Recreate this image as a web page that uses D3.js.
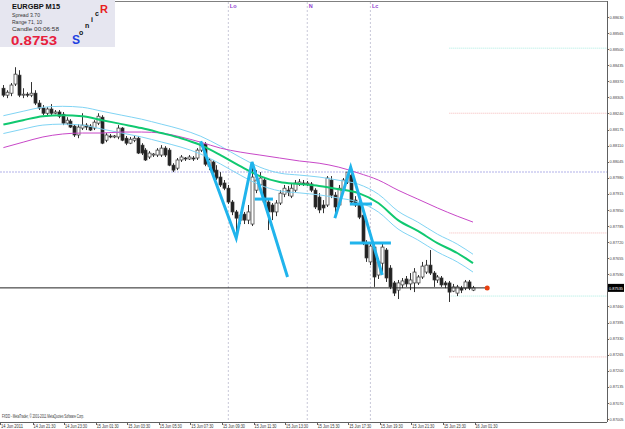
<!DOCTYPE html>
<html><head><meta charset="utf-8">
<script src="https://cdn.jsdelivr.net/npm/d3@7"></script>
<title>EURGBP M15</title>
<style>
body{margin:0;background:#fff;}
text{font-family:"Liberation Sans",Arial,sans-serif;}
</style>
</head><body>
<script>
// --- data (15 minute bars, 14 Jun 19:45 .. 16 Jun 01:30) ---
const opens = [0.88342,0.88314,0.88322,0.88359,0.88395,0.88314,0.88318,0.88314,0.88322,0.88282,
 0.88262,0.88241,0.88258,0.88241,0.88246,0.88237,0.88201,0.88209,0.88189,0.88153,
 0.88181,0.88193,0.88189,0.88181,0.88201,0.88225,0.88132,0.88149,0.88145,0.88145,
 0.88181,0.88140,0.88120,0.88132,0.88140,0.88112,0.88092,0.88064,0.88072,0.88072,
 0.88072,0.88100,0.88092,0.88031,0.88019,0.88052,0.88060,0.88056,0.88060,0.88060,
 0.88092,0.88116,0.88027,0.88044,0.88011,0.87983,0.87959,0.87938,0.87882,0.87842,
 0.87809,0.87833,0.87809,0.87793,0.87930,0.87951,0.87971,0.87882,0.87870,0.87842,
 0.87878,0.87914,0.87930,0.87906,0.87930,0.87955,0.87959,0.87955,0.87955,0.87930,
 0.87902,0.87870,0.87870,0.87971,0.87910,0.87870,0.87930,0.87963,0.87991,0.87890,
 0.87874,0.87829,0.87716,0.87640,0.87700,0.87587,0.87635,0.87688,0.87615,0.87555,
 0.87526,0.87547,0.87571,0.87551,0.87555,0.87555,0.87579,0.87599,0.87627,0.87595,
 0.87567,0.87575,0.87555,0.87555,0.87522,0.87514,0.87534,0.87534,0.87559,0.87526];
const highs = [0.88355,0.88334,0.88363,0.88427,0.88415,0.88342,0.88326,0.88367,0.88334,0.88294,
 0.88274,0.88266,0.88278,0.88254,0.88254,0.88246,0.88225,0.88217,0.88197,0.88197,
 0.88241,0.88201,0.88197,0.88213,0.88241,0.88233,0.88161,0.88157,0.88153,0.88193,
 0.88185,0.88149,0.88145,0.88149,0.88149,0.88120,0.88100,0.88088,0.88080,0.88100,
 0.88112,0.88108,0.88100,0.88039,0.88060,0.88072,0.88064,0.88072,0.88068,0.88100,
 0.88128,0.88124,0.88060,0.88052,0.88031,0.88003,0.87971,0.87951,0.87890,0.87850,
 0.87842,0.87842,0.87870,0.88044,0.88011,0.88003,0.87979,0.87898,0.87878,0.87890,
 0.87930,0.87951,0.87947,0.87959,0.87971,0.87975,0.87971,0.87967,0.87963,0.87938,
 0.87918,0.87890,0.87987,0.87987,0.87922,0.87951,0.87979,0.88003,0.88023,0.87906,
 0.87890,0.87842,0.87728,0.87716,0.87712,0.87656,0.87716,0.87696,0.87627,0.87563,
 0.87567,0.87575,0.87583,0.87595,0.87615,0.87587,0.87640,0.87648,0.87688,0.87603,
 0.87587,0.87583,0.87563,0.87563,0.87551,0.87547,0.87543,0.87567,0.87567,0.87543];
const lows = [0.88306,0.88302,0.88310,0.88351,0.88306,0.88302,0.88306,0.88306,0.88274,0.88254,
 0.88233,0.88233,0.88233,0.88237,0.88221,0.88193,0.88193,0.88181,0.88145,0.88140,
 0.88173,0.88173,0.88169,0.88173,0.88193,0.88116,0.88124,0.88140,0.88140,0.88136,
 0.88128,0.88112,0.88116,0.88124,0.88076,0.88072,0.88048,0.88056,0.88064,0.88064,
 0.88064,0.88064,0.88027,0.88003,0.88011,0.88044,0.88048,0.88052,0.88048,0.88052,
 0.88084,0.88027,0.88011,0.87991,0.87971,0.87943,0.87930,0.87874,0.87829,0.87736,
 0.87793,0.87793,0.87793,0.87785,0.87918,0.87930,0.87870,0.87769,0.87809,0.87825,
 0.87870,0.87902,0.87906,0.87898,0.87922,0.87947,0.87947,0.87947,0.87922,0.87854,
 0.87837,0.87837,0.87862,0.87898,0.87817,0.87862,0.87922,0.87955,0.87874,0.87862,
 0.87813,0.87708,0.87640,0.87627,0.87539,0.87571,0.87599,0.87559,0.87530,0.87502,
 0.87490,0.87534,0.87539,0.87526,0.87518,0.87547,0.87571,0.87591,0.87587,0.87539,
 0.87555,0.87539,0.87534,0.87478,0.87518,0.87502,0.87514,0.87526,0.87526,0.87522];
const closes = [0.88314,0.88326,0.88355,0.88399,0.88314,0.88318,0.88314,0.88322,0.88282,0.88262,
 0.88241,0.88258,0.88241,0.88246,0.88229,0.88201,0.88213,0.88185,0.88153,0.88185,
 0.88193,0.88185,0.88173,0.88205,0.88229,0.88120,0.88153,0.88145,0.88149,0.88181,
 0.88132,0.88120,0.88136,0.88140,0.88080,0.88080,0.88052,0.88080,0.88076,0.88092,
 0.88100,0.88072,0.88031,0.88011,0.88052,0.88064,0.88056,0.88064,0.88056,0.88092,
 0.88120,0.88035,0.88052,0.88003,0.87979,0.87951,0.87938,0.87882,0.87842,0.87817,
 0.87829,0.87809,0.87842,0.87983,0.87971,0.87979,0.87882,0.87842,0.87842,0.87878,
 0.87918,0.87938,0.87922,0.87938,0.87959,0.87963,0.87955,0.87959,0.87930,0.87862,
 0.87850,0.87858,0.87979,0.87910,0.87862,0.87938,0.87971,0.88003,0.87882,0.87870,
 0.87821,0.87716,0.87656,0.87704,0.87579,0.87640,0.87700,0.87575,0.87539,0.87514,
 0.87555,0.87563,0.87551,0.87567,0.87599,0.87579,0.87623,0.87627,0.87595,0.87567,
 0.87579,0.87547,0.87547,0.87518,0.87539,0.87539,0.87526,0.87559,0.87534,0.87535];

// moving averages, read every 5 bars
const maBars    = [0,5,10,15,20,25,30,35,40,45,50,55,60,65,70,75,80,85,90,95,100,105,110,115,119];
const maFast    = [0.88195,0.88213,0.88229,0.88233,0.88229,0.88213,0.88197,0.88181,0.88161,0.88140,0.88112,0.88072,0.88027,0.87987,0.87963,0.87955,0.87947,0.87934,0.87918,0.87878,0.87809,0.87765,0.87716,0.87676,0.87635];
const bandUp    = [0.88231,0.88249,0.88265,0.88269,0.88265,0.88249,0.88233,0.88217,0.88197,0.88176,0.88148,0.88108,0.88063,0.88023,0.87999,0.87991,0.87983,0.87970,0.87954,0.87914,0.87845,0.87801,0.87752,0.87712,0.87671];
const bandDn    = [0.88159,0.88177,0.88193,0.88197,0.88193,0.88177,0.88161,0.88145,0.88125,0.88104,0.88076,0.88036,0.87991,0.87951,0.87927,0.87919,0.87911,0.87898,0.87882,0.87842,0.87773,0.87729,0.87680,0.87640,0.87599];
const maSlow    = [0.88102,0.88124,0.88145,0.88157,0.88161,0.88161,0.88165,0.88165,0.88161,0.88145,0.88124,0.88100,0.88084,0.88072,0.88060,0.88048,0.88039,0.88023,0.87999,0.87971,0.87930,0.87894,0.87858,0.87825,0.87801];

// zigzag legs and breakout levels
const zzBarsA   = [50,59,63,72];
const zzPriceA  = [0.88128,0.87736,0.88044,0.87579];
const zzBarsB   = [84,88,96];
const zzPriceB  = [0.87817,0.88023,0.87587];
const hLevelBars  = [[63.7,68.3],[87.8,93.4],[87.8,98.2]];
const hLevelPrice = [0.87894,0.87874,0.87716];

// pivot style levels
const pivotCyan = [0.88504,0.87502];
const pivotPink = [0.88241,0.87757,0.87256];
const midLevel  = 0.88003;

// sessions
const sessionBars  = [57,77,93];
const sessionNames = ["Lo","N","Lc"];

// axes
const priceTicks = [0.88630,0.88565,0.88500,0.88435,0.88370,0.88305,0.88240,0.88175,0.88110,0.88045,
 0.87980,0.87915,0.87850,0.87785,0.87720,0.87655,0.87590,0.87525,0.87460,0.87395,0.87330,0.87265,
 0.87200,0.87135,0.87070,0.87005];
const timeTickBars = [0,7,15,23,31,39,47,55,63,71,79,87,95,103,111,119];
const timeLabels = ["14 Jun 2011","14 Jun 21:30","14 Jun 23:30","15 Jun 01:30","15 Jun 03:30","15 Jun 05:30",
 "15 Jun 07:30","15 Jun 09:30","15 Jun 11:30","15 Jun 13:30","15 Jun 15:30","15 Jun 17:30",
 "15 Jun 19:30","15 Jun 21:30","15 Jun 23:30","16 Jun 01:30"];
const lastPrice = 0.87535;

// --- drawing ---
const W = 625, H = 429, right = 607, bottom = 422;
const svg = d3.select("body").append("svg").attr("width", W).attr("height", H);

const x = d3.scaleLinear().domain([0, 119]).range([3.4, 473]);
const y = d3.scaleLinear().domain([0.87005, 0.88630]).range([419, 17]);

// squeeze small text into a given width, like the tiny terminal font
const fit = (sel, w) => sel.attr("textLength", w).attr("lengthAdjust", "spacingAndGlyphs");

// sessions
sessionBars.forEach((b, i) => {
  svg.append("line").attr("x1", x(b)).attr("x2", x(b)).attr("y1", 2).attr("y2", bottom)
    .attr("stroke", "#c8c8d8").attr("stroke-dasharray", "2,2").attr("stroke-width", 1);
  svg.append("text").attr("x", x(b) + 1.5).attr("y", 8).text(sessionNames[i])
    .attr("font-size", 5.5).attr("fill", "#9040d0").attr("font-weight", "bold");
});

// levels
svg.append("line").attr("x1", 0).attr("x2", right).attr("y1", y(midLevel)).attr("y2", y(midLevel))
  .attr("stroke", "#d8d8f4").attr("stroke-width", 2).attr("stroke-dasharray", "2,1");
pivotCyan.forEach(p => svg.append("line").attr("x1", x(113)).attr("x2", right).attr("y1", y(p)).attr("y2", y(p))
  .attr("stroke", "#a8ece0").attr("stroke-dasharray", "1,1"));
pivotPink.forEach(p => svg.append("line").attr("x1", x(113)).attr("x2", right).attr("y1", y(p)).attr("y2", y(p))
  .attr("stroke", "#f4b8b8").attr("stroke-dasharray", "1,1"));

// candles
const bars = d3.range(opens.length);
const g = svg.append("g");
g.selectAll(".wick").data(bars).enter().append("line")
  .attr("x1", i => Math.round(x(i)) + 0.5).attr("x2", i => Math.round(x(i)) + 0.5)
  .attr("y1", i => y(highs[i])).attr("y2", i => y(lows[i]))
  .attr("stroke", "#333").attr("stroke-width", 1);
g.selectAll(".body").data(bars).enter().append("rect")
  .attr("x", i => Math.round(x(i)) - 1)
  .attr("width", 3)
  .attr("y", i => y(Math.max(opens[i], closes[i])))
  .attr("height", i => Math.max(1, Math.abs(y(opens[i]) - y(closes[i]))))
  .attr("fill", i => closes[i] >= opens[i] ? "#fff" : "#222")
  .attr("stroke", "#333").attr("stroke-width", 0.7);

// MAs
const line = vals => d3.line().x((d, i) => x(maBars[i])).y(d => y(d)).curve(d3.curveMonotoneX)(vals);
svg.append("path").attr("d", line(bandUp)).attr("fill", "none").attr("stroke", "#80d4f4").attr("stroke-width", 1);
svg.append("path").attr("d", line(bandDn)).attr("fill", "none").attr("stroke", "#80d4f4").attr("stroke-width", 1);
svg.append("path").attr("d", line(maSlow)).attr("fill", "none").attr("stroke", "#c848c8").attr("stroke-width", 1);
svg.append("path").attr("d", line(maFast)).attr("fill", "none").attr("stroke", "#10c870").attr("stroke-width", 2);

// zigzag
const zz = (bs, ps) => d3.line().x((d, i) => x(bs[i])).y(d => y(d))(ps);
svg.append("path").attr("d", zz(zzBarsA, zzPriceA)).attr("fill", "none").attr("stroke", "#20b4ec").attr("stroke-width", 3);
svg.append("path").attr("d", zz(zzBarsB, zzPriceB)).attr("fill", "none").attr("stroke", "#20b4ec").attr("stroke-width", 3);
hLevelBars.forEach((b, i) => svg.append("line").attr("x1", x(b[0])).attr("x2", x(b[1]))
  .attr("y1", y(hLevelPrice[i])).attr("y2", y(hLevelPrice[i])).attr("stroke", "#20b4ec").attr("stroke-width", 3));

// price line
svg.append("line").attr("x1", 0).attr("x2", x(122.6)).attr("y1", y(lastPrice)).attr("y2", y(lastPrice))
  .attr("stroke", "#222").attr("stroke-width", 1);
svg.append("circle").attr("cx", x(122.6)).attr("cy", y(lastPrice)).attr("r", 2.5).attr("fill", "#e84010");

// frame
svg.append("line").attr("x1", 0).attr("x2", right).attr("y1", 1.5).attr("y2", 1.5).attr("stroke", "#808080");
svg.append("line").attr("x1", right + 0.5).attr("x2", right + 0.5).attr("y1", 1).attr("y2", bottom).attr("stroke", "#606060");
svg.append("line").attr("x1", 0).attr("x2", right).attr("y1", bottom + 0.5).attr("y2", bottom + 0.5).attr("stroke", "#606060");

// price axis
priceTicks.filter(p => Math.abs(y(p) - y(lastPrice)) > 6).forEach(p => {
  svg.append("line").attr("x1", right).attr("x2", right + 2).attr("y1", Math.round(y(p)) + 0.5).attr("y2", Math.round(y(p)) + 0.5).attr("stroke", "#606060");
  svg.append("text").attr("x", right + 2.5).attr("y", y(p) + 1.6).text(p.toFixed(5))
    .attr("font-size", 4.4).attr("fill", "#444").call(fit, 14);
});
svg.append("rect").attr("x", right + 1).attr("y", y(lastPrice) - 4).attr("width", 16).attr("height", 8).attr("fill", "#000");
svg.append("text").attr("x", right + 2).attr("y", y(lastPrice) + 1.8).text(lastPrice.toFixed(5))
  .attr("font-size", 4.4).attr("fill", "#fff").call(fit, 14);

// time axis
timeTickBars.forEach((b, i) => {
  const tx = i === 0 ? 0 : x(b) + 1.5;
  svg.append("line").attr("x1", Math.round(tx) + 0.5).attr("x2", Math.round(tx) + 0.5).attr("y1", bottom).attr("y2", bottom + 3).attr("stroke", "#606060");
  svg.append("text").attr("x", tx + 1).attr("y", 427.5).text(timeLabels[i]).attr("font-size", 5).attr("fill", "#333").call(fit, 22);
});
svg.append("text").attr("x", 2).attr("y", 418).text("FXDD - MetaTrader, \u00a9 2001-2011 MetaQuotes Software Corp.")
  .attr("font-size", 5).attr("fill", "#333").call(fit, 82);

// info panel
svg.append("rect").attr("x", 0).attr("y", 0).attr("width", 115).attr("height", 47).attr("fill", "#e6e6f0");
svg.append("text").attr("x", 12).attr("y", 9).text("EURGBP   M15").attr("font-size", 7).attr("font-weight", "bold").attr("fill", "#111").call(fit, 48);
svg.append("text").attr("x", 12).attr("y", 16.5).text("Spread   3.70").attr("font-size", 6).attr("fill", "#333").call(fit, 28);
svg.append("text").attr("x", 12).attr("y", 23.5).text("Range   71, 10").attr("font-size", 6).attr("fill", "#333").call(fit, 30);
svg.append("text").attr("x", 12).attr("y", 30.5).text("Candle   00:06:58").attr("font-size", 6).attr("fill", "#333").call(fit, 47);
svg.append("text").attr("x", 11).attr("y", 44.5).text("0.8753").attr("font-size", 13).attr("font-weight", "bold").attr("fill", "#e8203c").call(fit, 46);
const sonic = [["S", 72, 44, "#2040e0", 12], ["o", 79, 35, "#111", 7], ["n", 85, 28, "#111", 7],
  ["i", 91, 22, "#111", 7], ["c", 95, 16, "#111", 7], ["R", 100, 13, "#e82020", 11]];
sonic.forEach(s => svg.append("text").attr("x", s[1]).attr("y", s[2]).text(s[0])
  .attr("font-size", s[4]).attr("font-weight", "bold").attr("fill", s[3]));
</script>
</body></html>
